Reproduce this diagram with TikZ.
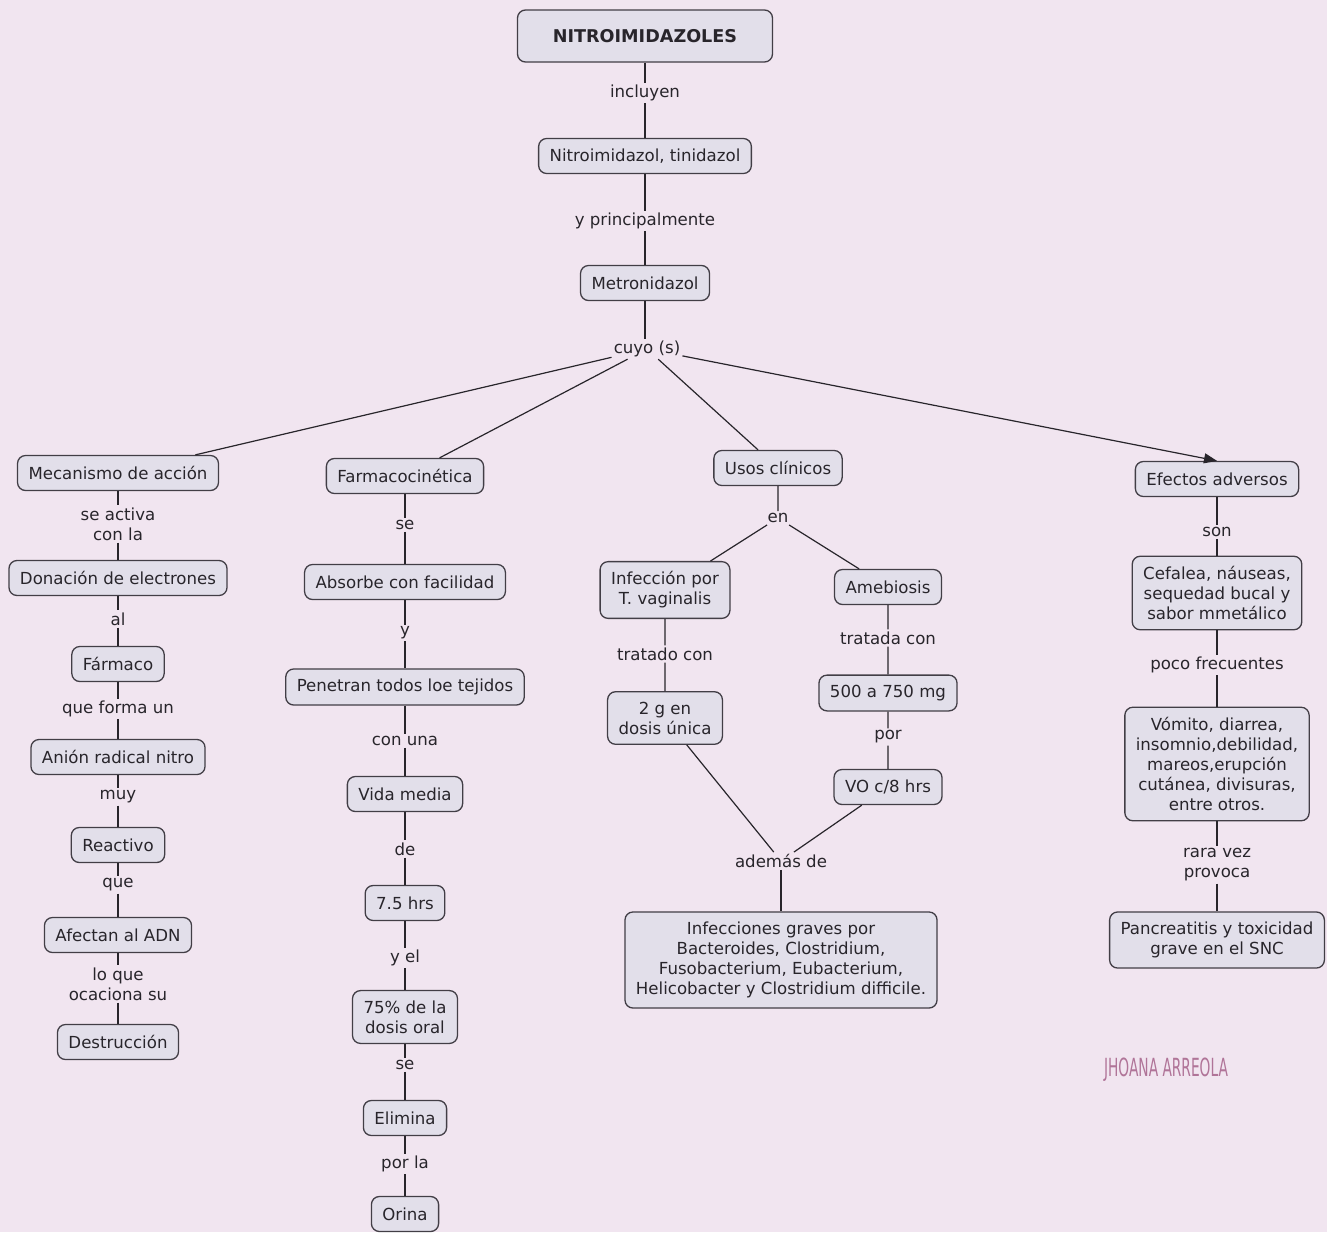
\documentclass[tikz,border=0pt]{standalone}
\usepackage{fontspec}
\setmainfont{DejaVu Sans}
\newfontfamily\signfont{DejaVu Sans}[FakeStretch=0.55]
\usetikzlibrary{arrows.meta}
\definecolor{bgpink}{RGB}{241,229,240}
\definecolor{boxfill}{RGB}{226,223,234}
\definecolor{boxline}{RGB}{66,62,70}
\definecolor{ink}{RGB}{40,37,43}
\definecolor{signpink}{RGB}{176,116,152}
\tikzset{
  concept/.style={draw=boxline, fill=boxfill, rounded corners=8pt, line width=1.3pt,
    inner xsep=11pt, inner ysep=10pt, minimum height=35pt, align=center, text=ink,
    font=\fontsize{16.6}{20}\selectfont},
  phrase/.style={inner sep=2pt, align=center, text=ink, font=\fontsize{16.6}{20}\selectfont},
  link/.style={draw=ink, line width=1.2pt},
}
\begin{document}
\begin{tikzpicture}[x=1pt, y=-1pt]
  \fill[bgpink] (0,0) rectangle (1327,1232);
  \useasboundingbox (0,0) rectangle (1327,1232);

  % top
  \node[concept, minimum width=255pt, minimum height=52pt, font=\fontsize{17.6}{20}\selectfont\bfseries] (nitro) at (645,36) {NITROIMIDAZOLES};
  \node[phrase] (incl) at (645,93) {incluyen};
  \node[concept] (tini) at (645,156) {Nitroimidazol, tinidazol};
  \node[phrase] (princ) at (645,221) {y principalmente};
  \node[concept] (metro) at (645,283) {Metronidazol};
  \node[phrase] (cuyo) at (647,349) {cuyo (s)};

  % mecanismo de accion
  \node[concept] (meca) at (118,473) {Mecanismo de acción};
  \node[phrase] (activa) at (118,524) {se activa\\con la};
  \node[concept] (dona) at (118,578) {Donación de electrones};
  \node[phrase] (al) at (118,619) {al};
  \node[concept] (farm) at (118,664) {Fármaco};
  \node[phrase] (forma) at (118,709) {que forma un};
  \node[concept] (anion) at (118,757) {Anión radical nitro};
  \node[phrase] (muy) at (118,797) {muy};
  \node[concept] (reac) at (118,845) {Reactivo};
  \node[phrase] (que) at (118,885) {que};
  \node[concept] (adn) at (118,935) {Afectan al ADN};
  \node[phrase] (ocac) at (118,984) {lo que\\ocaciona su};
  \node[concept] (destr) at (118,1042) {Destrucción};

  % farmacocinetica
  \node[concept] (fcin) at (405,476) {Farmacocinética};
  \node[phrase] (se1) at (405,525) {se};
  \node[concept] (absor) at (405,582) {Absorbe con facilidad};
  \node[phrase] (y1) at (405,633) {y};
  \node[concept] (penet) at (405,687) {Penetran todos loe tejidos};
  \node[phrase] (una) at (405,741) {con una};
  \node[concept] (vida) at (405,794) {Vida media};
  \node[phrase] (de1) at (405,849) {de};
  \node[concept] (hrs) at (405,903) {7.5 hrs};
  \node[phrase] (yel) at (405,958) {y el};
  \node[concept] (dosis) at (405,1017) {75\% de la\\dosis oral};
  \node[phrase] (se2) at (405,1065) {se};
  \node[concept] (elim) at (405,1118) {Elimina};
  \node[phrase] (porla) at (405,1164) {por la};
  \node[concept] (orina) at (405,1214) {Orina};

  % usos clinicos
  \node[concept] (usos) at (778,468) {Usos clínicos};
  \node[phrase] (en) at (778,518) {en};
  \node[concept] (vagi) at (665,590) {Infección por\\T. vaginalis};
  \node[concept] (ameb) at (888,587) {Amebiosis};
  \node[phrase] (tratado) at (665,654) {tratado con};
  \node[phrase] (tratada) at (888,638) {tratada con};
  \node[concept] (unica) at (665,718) {2 g en\\dosis única};
  \node[concept] (mg) at (888,693) {500 a 750 mg};
  \node[phrase] (por) at (888,737) {por};
  \node[concept] (vo) at (888,787) {VO c/8 hrs};
  \node[phrase] (ademas) at (781,861) {además de};
  \node[concept] (graves) at (781,960) {Infecciones graves por\\Bacteroides, Clostridium,\\Fusobacterium, Eubacterium,\\Helicobacter y Clostridium difficile.};

  % efectos adversos
  \node[concept] (efec) at (1217,479) {Efectos adversos};
  \node[phrase] (son) at (1217,532) {son};
  \node[concept] (cefa) at (1217,593) {Cefalea, náuseas,\\sequedad bucal y\\sabor mmetálico};
  \node[phrase] (poco) at (1217,665) {poco frecuentes};
  \node[concept] (vomi) at (1217,764) {Vómito, diarrea,\\insomnio,debilidad,\\mareos,erupción\\cutánea, divisuras,\\entre otros.};
  \node[phrase] (rara) at (1217,865) {rara vez\\provoca};
  \node[concept] (pancr) at (1217,940) {Pancreatitis y toxicidad\\grave en el SNC};

  \node[text=signpink, font=\signfont\fontsize{25}{25}\selectfont] (firma) at (1166,1070) {JHOANA ARREOLA};

  % connectors
  \draw[link] (nitro) -- (incl) (incl) -- (tini) (tini) -- (princ) (princ) -- (metro) (metro) -- (metro |- cuyo.north);
  \draw[link] (cuyo) -- (meca);
  \draw[link] (cuyo) -- (fcin);
  \draw[link] (cuyo) -- (usos);
  \draw[link, -{Triangle[length=13pt, width=10pt]}] (cuyo) -- (efec.north);

  \draw[link] (meca) -- (activa) (activa) -- (dona) (dona) -- (al) (al) -- (farm)
    (farm) -- (forma) (forma) -- (anion) (anion) -- (muy) (muy) -- (reac)
    (reac) -- (que) (que) -- (adn) (adn) -- (ocac) (ocac) -- (destr);

  \draw[link] (fcin) -- (se1) (se1) -- (absor) (absor) -- (y1) (y1) -- (penet)
    (penet) -- (una) (una) -- (vida) (vida) -- (de1) (de1) -- (hrs)
    (hrs) -- (yel) (yel) -- (dosis) (dosis) -- (se2) (se2) -- (elim)
    (elim) -- (porla) (porla) -- (orina);

  \draw[link] (usos) -- (en) (en) -- (vagi) (en) -- (ameb);
  \draw[link] (vagi) -- (tratado) (tratado) -- (unica) (unica) -- (ademas);
  \draw[link] (ameb) -- (tratada) (tratada) -- (mg) (mg) -- (por) (por) -- (vo) (vo) -- (ademas);
  \draw[link] (ademas) -- (graves);

  \draw[link] (efec) -- (son) (son) -- (cefa) (cefa) -- (poco) (poco) -- (vomi)
    (vomi) -- (rara) (rara) -- (pancr);
\end{tikzpicture}
\end{document}
